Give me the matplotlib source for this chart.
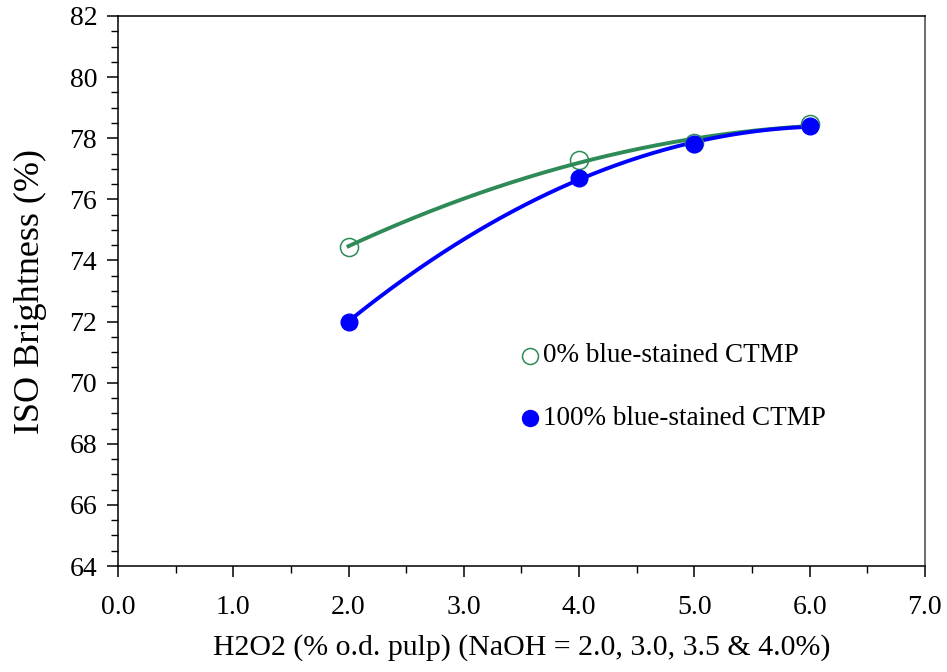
import numpy as np
import matplotlib
matplotlib.use("Agg")
import matplotlib.pyplot as plt
from matplotlib.ticker import MultipleLocator, FormatStrFormatter

# H2O2 charge (% o.d. pulp)
h2o2 = [2.0, 4.0, 5.0, 6.0]
# ISO brightness (%)
bright_0 = [74.45, 77.3, 77.85, 78.45]
bright_100 = [72.0, 76.7, 77.8, 78.4]

labels = ["0% blue-stained CTMP", "100% blue-stained CTMP"]
green = "#2E8B57"
blue = "#0000FF"

plt.rcParams['font.family'] = ['Liberation Serif', 'DejaVu Serif']

fig = plt.figure(figsize=(9.47, 6.72), dpi=100)
ax = fig.add_axes([0.1246, 0.1577, 0.8521, 0.8185])

# quadratic trend lines through each series
xs = np.linspace(min(h2o2), max(h2o2), 200)
for y, c in [(bright_0, green), (bright_100, blue)]:
    coef = np.polyfit(h2o2, y, 2)
    ax.plot(xs, np.polyval(coef, xs), color=c, lw=2.8, zorder=2)

ax.plot(h2o2, bright_0, 'o', ms=13, mfc='none', mec=green, mew=1.1, zorder=3)
ax.plot(h2o2, bright_100, 'o', ms=12, mfc=blue, mec=blue, zorder=3)

# legend drawn by hand (markers + text)
ax.plot([0.51], [0.382], 'o', ms=11.5, mfc='none', mec=green, mew=1.1, transform=ax.transAxes)
ax.text(0.527, 0.382, labels[0], transform=ax.transAxes, fontsize=19.5, va='center')
ax.plot([0.51], [0.269], 'o', ms=11.5, mfc=blue, mec=blue, transform=ax.transAxes)
ax.text(0.527, 0.269, labels[1], transform=ax.transAxes, fontsize=19.5, va='center')

ax.set_xlim(0, 7)
ax.set_ylim(64, 82)
ax.xaxis.set_major_locator(MultipleLocator(1))
ax.xaxis.set_minor_locator(MultipleLocator(0.5))
ax.xaxis.set_major_formatter(FormatStrFormatter('%.1f'))
ax.yaxis.set_major_locator(MultipleLocator(2))
ax.yaxis.set_minor_locator(MultipleLocator(0.5))
ax.tick_params(which='major', direction='out', length=8, width=1.1, labelsize=20)
ax.tick_params(axis='x', which='major', pad=13)
ax.tick_params(axis='y', which='major', pad=7)
ax.tick_params(which='minor', direction='out', length=5, width=1.0)
for s in ax.spines.values():
    s.set_linewidth(1.1)
ax.spines['right'].set_color('#444444')

ax.set_xlabel("H2O2 (% o.d. pulp) (NaOH = 2.0, 3.0, 3.5 & 4.0%)", fontsize=21.5, labelpad=10)
ax.set_ylabel("ISO Brightness (%)", fontsize=26, labelpad=16)

fig.savefig("out.png", dpi=100)
